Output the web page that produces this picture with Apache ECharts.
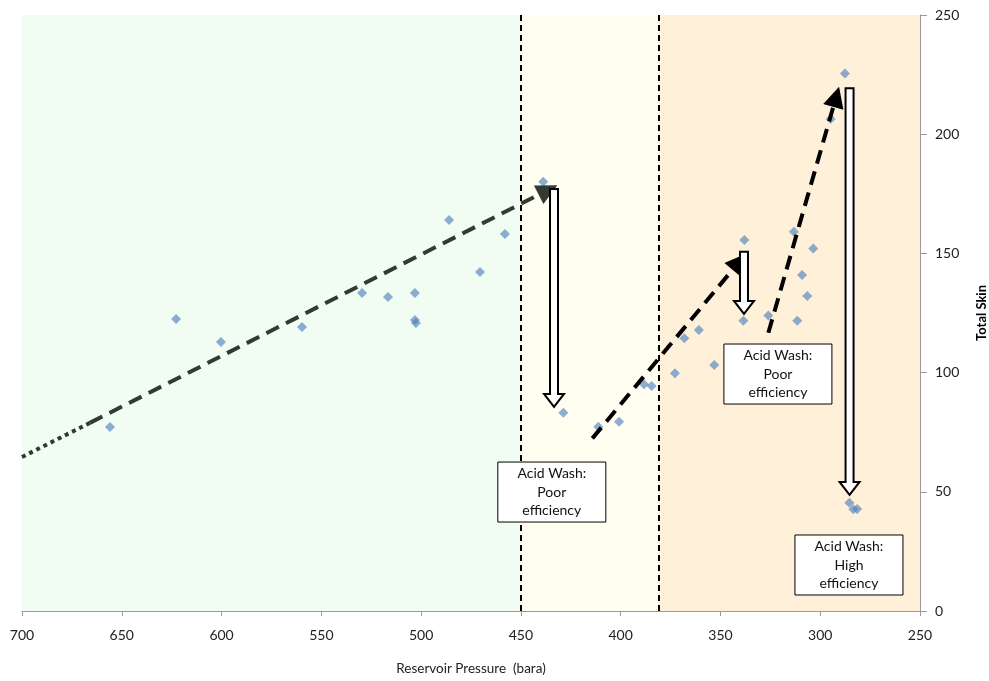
<!DOCTYPE html>
<html>
<head>
<meta charset="utf-8">
<script src="https://cdn.jsdelivr.net/npm/echarts@6/dist/echarts.min.js"></script>
<style>html,body{margin:0;padding:0;background:#fff;}#c{width:989px;height:681px;}</style>
</head>
<body>
<div id="c"></div>
<script>
// ---- data ----
const xTicks = [700, 650, 600, 550, 500, 450, 400, 350, 300, 250];
const yTicks = [0, 50, 100, 150, 200, 250];
const pressure = [655.9, 622.8, 600.3, 559.7, 529.6, 516.6, 503.1, 503.1, 502.6, 486.0, 470.5, 458.0,
  438.8, 428.7, 411.2, 400.8, 388.3, 384.5, 372.8, 368.1, 360.8, 353.1, 338.0, 338.5, 326.0,
  313.2, 303.5, 309.1, 306.5, 311.5, 294.8, 287.6, 285.4, 283.4, 281.5];
const skin = [77.2, 122.5, 112.8, 119.1, 133.4, 131.7, 133.4, 122.1, 120.8, 164.0, 142.2, 158.1,
  180.1, 83.2, 77.3, 79.4, 95.1, 94.4, 99.7, 114.4, 117.9, 103.2, 155.6, 121.8, 123.9,
  159.1, 152.1, 140.9, 132.1, 121.8, 206.4, 225.5, 45.4, 42.7, 42.8];
// zone boundaries (bara)
const zoneEdges = [700, 450, 381, 250];
// trend extrapolation (dotted) and trend arrows (dashed): [x1, y1, x2, y2]
const dottedTrend = [[700, 64.6], [666, 78.9]];
const trendArrows = [
  [666, 78.9, 436.4, 176.6],
  [414.2, 72.4, 340.6, 146.5],
  [326.0, 116.7, 292.0, 215.7]
];
// acid wash drops: [x, skin before, skin after]
const washDrops = [
  [433.4, 177.0, 85.6],
  [338.2, 150.7, 124.6],
  [285.3, 219.3, 48.7]
];
// annotation labels: [x, y, text]
const notes = [
  [434.5, 49.9, 'Acid Wash:\nPoor\nefficiency'],
  [321.2, 99.4, 'Acid Wash:\nPoor\nefficiency'],
  [285.6, 19.3, 'Acid Wash:\nHigh\nefficiency']
];

const FONT = 'Lato';
const chart = echarts.init(document.getElementById('c'), null, {renderer: 'canvas'});

const option = {
  animation: false,
  backgroundColor: '#ffffff',
  textStyle: {fontFamily: FONT},
  grid: {left: 22, right: 69, top: 15, bottom: 70, containLabel: false, outerBoundsMode: 'none'},
  xAxis: {
    type: 'value', inverse: true, min: 250, max: 700, interval: 50,
    name: 'Reservoir Pressure  (bara)', nameLocation: 'middle', nameGap: 51,
    nameTextStyle: {fontFamily: FONT, fontSize: 13.5, color: '#222'},
    axisLine: {show: true, lineStyle: {color: '#9a9a9a', width: 1}},
    axisTick: {show: true, length: 5, lineStyle: {color: '#9a9a9a'}},
    axisLabel: {fontFamily: FONT, fontSize: 14, color: '#222', margin: 17},
    splitLine: {show: false}
  },
  yAxis: {
    type: 'value', position: 'right', min: 0, max: 250, interval: 50,
    name: 'Total Skin', nameLocation: 'middle', nameGap: 55, nameRotate: 90,
    nameTextStyle: {fontFamily: FONT, fontSize: 13, fontWeight: 'bold', color: '#000'},
    axisLine: {show: true, lineStyle: {color: '#9a9a9a', width: 1}},
    axisTick: {show: true, length: 7, lineStyle: {color: '#9a9a9a'}},
    axisLabel: {fontFamily: FONT, fontSize: 14, color: '#222', margin: 15},
    splitLine: {show: true, lineStyle: {color: '#a6a6a6', width: 1}}
  },
  series: [
    {
      type: 'scatter', name: 'zones', data: [], silent: true,
      markArea: {
        silent: true,
        data: [
          [{xAxis: zoneEdges[0], itemStyle: {color: '#F1FCF2'}}, {xAxis: zoneEdges[1]}],
          [{xAxis: zoneEdges[1], itemStyle: {color: '#FFFEF1'}}, {xAxis: zoneEdges[2]}],
          [{xAxis: zoneEdges[2], itemStyle: {color: '#FEF0D9'}}, {xAxis: zoneEdges[3]}]
        ]
      },
      markLine: {
        silent: true, symbol: 'none', label: {show: false},
        lineStyle: {color: '#000', type: [6, 4], width: 2},
        data: [{xAxis: zoneEdges[1]}, {xAxis: zoneEdges[2]}]
      },
      z: 1
    },
    {
      type: 'scatter', name: 'Total Skin',
      data: pressure.map((p, i) => [p, skin[i]]),
      symbol: 'diamond', symbolSize: 10,
      itemStyle: {color: 'rgba(79,129,189,0.8)'},
      z: 3
    },
    {
      type: 'line', name: 'extrapolation', data: dottedTrend,
      symbol: 'none', lineStyle: {color: '#2f3a30', width: 4, type: [4, 4]}, z: 4
    },
    {
      type: 'lines', coordinateSystem: 'cartesian2d', name: 'trends',
      symbol: ['none', 'triangle'], symbolSize: [17, 21],
      data: trendArrows.map((a, i) => ({
        coords: [[a[0], a[1]], [a[2], a[3]]],
        lineStyle: {color: i === 0 ? '#323a33' : '#000000'}
      })),
      lineStyle: {width: 4, type: [14, 8], opacity: 1},
      z: 5
    },
    {
      type: 'custom', name: 'washes', data: washDrops,
      renderItem: function (params, api) {
        const top = api.coord([api.value(0), api.value(1)]);
        const tip = api.coord([api.value(0), api.value(2)]);
        const x = top[0], sw = 4, hw = 10, hh = 13;
        const pts = [[x - sw, top[1]], [x + sw, top[1]], [x + sw, tip[1] - hh], [x + hw, tip[1] - hh],
          [x, tip[1]], [x - hw, tip[1] - hh], [x - sw, tip[1] - hh]];
        return {
          type: 'polygon', shape: {points: pts},
          style: {fill: '#ffffff', stroke: '#000000', lineWidth: 2}
        };
      },
      encode: {x: 0, y: [1, 2]},
      z: 6
    },
    {
      type: 'custom', name: 'notes', data: notes,
      renderItem: function (params, api) {
        const c = api.coord([api.value(0), api.value(1)]);
        const w = 108, h = 60;
        return {
          type: 'group',
          children: [
            {type: 'rect', shape: {x: c[0] - w / 2, y: c[1] - h / 2, width: w, height: h},
              style: {fill: '#ffffff', stroke: '#000', lineWidth: 1}},
            {type: 'text', x: c[0], y: c[1],
              style: {text: notes[params.dataIndex][2], fontFamily: FONT, fontSize: 14, lineHeight: 18.5,
                fill: '#111', align: 'center', verticalAlign: 'middle'}}
          ]
        };
      },
      encode: {x: 0, y: 1},
      z: 7
    }
  ]
};
chart.setOption(option);
</script>
</body>
</html>
